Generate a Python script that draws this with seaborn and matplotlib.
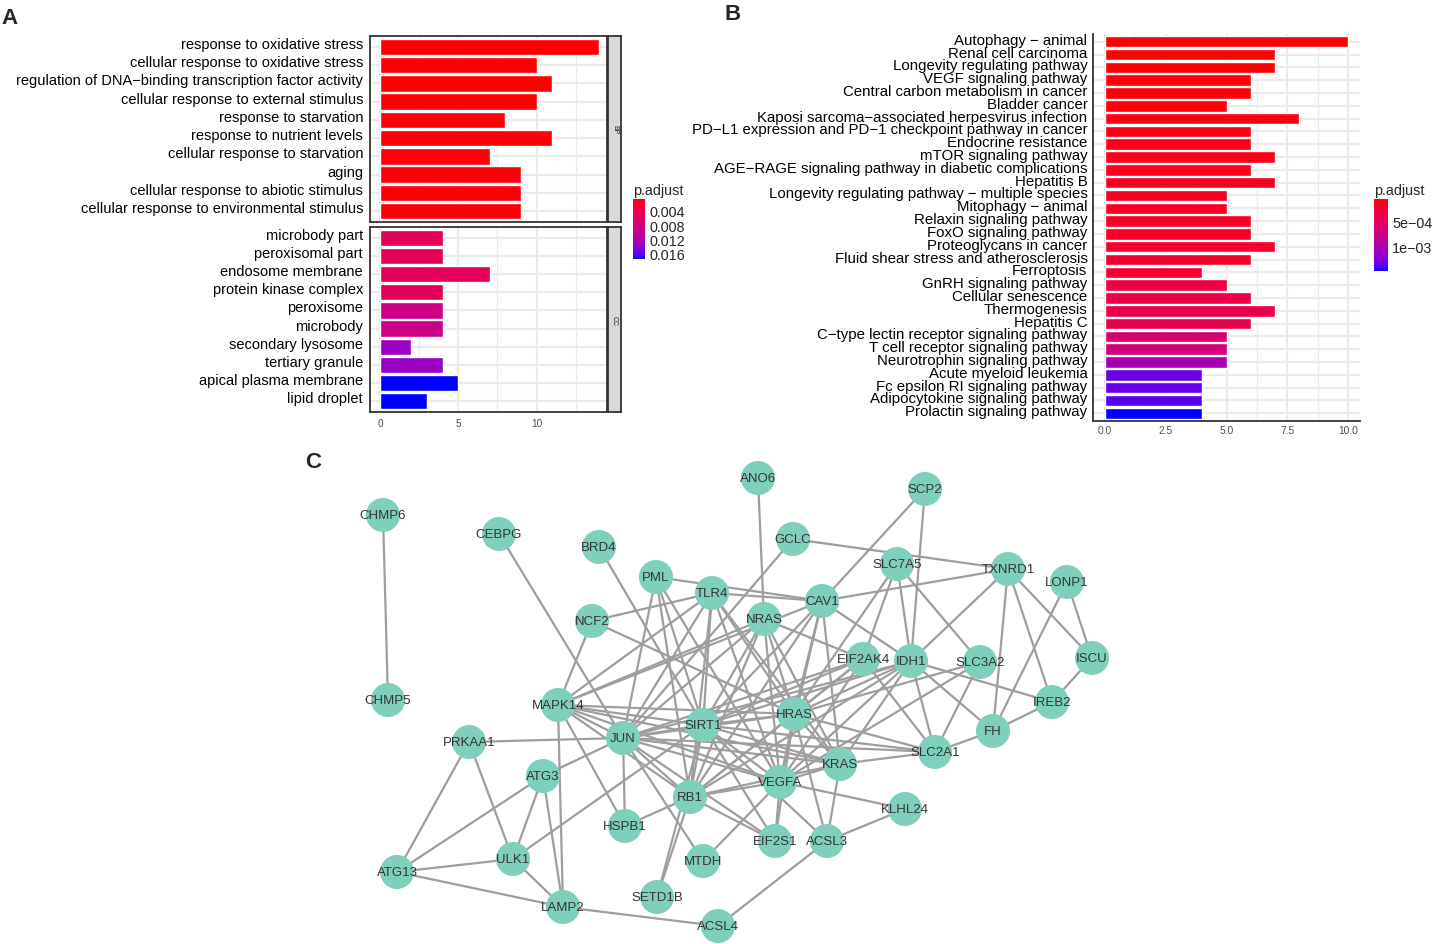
import numpy as np
import pandas as pd
import matplotlib
matplotlib.use("Agg")
import matplotlib.pyplot as plt
import matplotlib.transforms as mtransforms
import seaborn as sns
from matplotlib.colors import ListedColormap, Normalize
from matplotlib.cm import ScalarMappable

W, H = 1435, 945

# ---------------- panel A: GO enrichment ----------------
bp_terms = ["response to oxidative stress",
            "cellular response to oxidative stress",
            "regulation of DNA\u2212binding transcription factor activity",
            "cellular response to external stimulus",
            "response to starvation",
            "response to nutrient levels",
            "cellular response to starvation",
            "aging",
            "cellular response to abiotic stimulus",
            "cellular response to environmental stimulus"]
bp_counts = [14, 10, 11, 10, 8, 11, 7, 9, 9, 9]
bp_padj = [0.0007, 0.0008, 0.0008, 0.0008, 0.0009, 0.0009, 0.0009, 0.0010, 0.0010, 0.0010]

cc_terms = ["microbody part", "peroxisomal part", "endosome membrane",
            "protein kinase complex", "peroxisome", "microbody",
            "secondary lysosome", "tertiary granule",
            "apical plasma membrane", "lipid droplet"]
cc_counts = [4, 4, 7, 4, 4, 4, 2, 4, 5, 3]
cc_padj = [0.0054, 0.0054, 0.0055, 0.0055, 0.0089, 0.0090, 0.0130, 0.0133, 0.0174, 0.0174]

a_ticks = [0.004, 0.008, 0.012, 0.016]
a_tick_labels = ["0.004", "0.008", "0.012", "0.016"]

# ---------------- panel B: KEGG enrichment ----------------
kegg_terms = ["Autophagy \u2212 animal", "Renal cell carcinoma",
              "Longevity regulating pathway", "VEGF signaling pathway",
              "Central carbon metabolism in cancer", "Bladder cancer",
              "Kaposi sarcoma\u2212associated herpesvirus infection",
              "PD\u2212L1 expression and PD\u22121 checkpoint pathway in cancer",
              "Endocrine resistance", "mTOR signaling pathway",
              "AGE\u2212RAGE signaling pathway in diabetic complications",
              "Hepatitis B", "Longevity regulating pathway \u2212 multiple species",
              "Mitophagy \u2212 animal", "Relaxin signaling pathway",
              "FoxO signaling pathway", "Proteoglycans in cancer",
              "Fluid shear stress and atherosclerosis", "Ferroptosis",
              "GnRH signaling pathway", "Cellular senescence", "Thermogenesis",
              "Hepatitis C", "C\u2212type lectin receptor signaling pathway",
              "T cell receptor signaling pathway", "Neurotrophin signaling pathway",
              "Acute myeloid leukemia", "Fc epsilon RI signaling pathway",
              "Adipocytokine signaling pathway", "Prolactin signaling pathway"]
kegg_counts = [10, 7, 7, 6, 6, 5, 8, 6, 6, 7, 6, 7, 5, 5, 6,
               6, 7, 6, 4, 5, 6, 7, 6, 5, 5, 5, 4, 4, 4, 4]
kegg_padj = [4.0e-5, 4.2e-5, 4.5e-5, 5.5e-5, 6.2e-5, 7.0e-5, 7.8e-5, 9.5e-5,
             1.05e-4, 1.12e-4, 1.2e-4, 1.3e-4, 1.42e-4, 1.55e-4, 1.8e-4,
             1.85e-4, 1.95e-4, 2.0e-4, 2.1e-4, 3.2e-4, 3.5e-4, 3.55e-4,
             3.8e-4, 6.1e-4, 6.8e-4, 1.05e-3, 1.33e-3, 1.35e-3, 1.38e-3, 1.48e-3]

b_ticks = [5e-4, 1e-3]
b_tick_labels = ["5e\u221204", "1e\u221203"]

# ---------------- panel C: PPI network ----------------
node_names = ["CHMP6", "CHMP5", "CEBPG", "BRD4", "ANO6", "SCP2", "GCLC", "PML",
              "SLC7A5", "TXNRD1", "LONP1", "TLR4", "CAV1", "NCF2", "NRAS",
              "EIF2AK4", "IDH1", "SLC3A2", "ISCU", "MAPK14", "IREB2", "HRAS",
              "SIRT1", "FH", "PRKAA1", "JUN", "SLC2A1", "KRAS", "ATG3", "VEGFA",
              "RB1", "KLHL24", "HSPB1", "ACSL3", "EIF2S1", "MTDH", "ULK1",
              "ATG13", "SETD1B", "LAMP2", "ACSL4"]
node_x = [383, 388, 499, 599, 758, 925, 793, 656, 897, 1008, 1067, 712, 822, 592,
          764, 863, 911, 980, 1092, 558, 1052, 794, 703, 993, 469, 623, 935, 840,
          543, 780, 690, 905, 625, 827, 775, 703, 513, 397, 657, 563, 718]
node_y = [516, 701, 535, 548, 479, 490, 540, 578, 565, 570, 583, 594, 602, 622,
          620, 660, 662, 663, 659, 706, 703, 715, 726, 732, 743, 739, 753, 765,
          777, 783, 798, 810, 827, 842, 842, 862, 860, 873, 898, 908, 927]

edges = [("CHMP6", "CHMP5"), ("CEBPG", "JUN"), ("BRD4", "SIRT1"), ("ANO6", "NRAS"),
         ("GCLC", "TXNRD1"), ("GCLC", "JUN"), ("SCP2", "CAV1"), ("SCP2", "IDH1"),
         ("TXNRD1", "CAV1"), ("TXNRD1", "IDH1"), ("TXNRD1", "FH"), ("TXNRD1", "IREB2"),
         ("TXNRD1", "ISCU"), ("SLC7A5", "IDH1"), ("SLC7A5", "SLC3A2"),
         ("SLC7A5", "EIF2AK4"), ("SLC7A5", "HRAS"), ("LONP1", "ISCU"), ("LONP1", "FH"),
         ("ISCU", "IREB2"), ("IREB2", "FH"), ("IREB2", "IDH1"), ("FH", "SLC2A1"),
         ("FH", "IDH1"), ("SLC3A2", "SLC2A1"), ("SLC3A2", "HRAS"), ("SLC3A2", "VEGFA"),
         ("IDH1", "SLC2A1"), ("EIF2AK4", "SLC2A1"), ("CAV1", "IDH1"),
         ("NRAS", "EIF2AK4"), ("PML", "CAV1"), ("TLR4", "CAV1"), ("NCF2", "TLR4"),
         ("NCF2", "MAPK14"), ("NCF2", "HRAS"), ("MAPK14", "TLR4"), ("MAPK14", "NRAS"),
         ("MAPK14", "CAV1"), ("MAPK14", "JUN"), ("MAPK14", "SIRT1"), ("MAPK14", "HRAS"),
         ("MAPK14", "KRAS"), ("MAPK14", "VEGFA"), ("MAPK14", "RB1"),
         ("MAPK14", "HSPB1"), ("MAPK14", "LAMP2"), ("PML", "JUN"), ("PML", "SIRT1"),
         ("PML", "RB1"), ("PML", "VEGFA"), ("TLR4", "JUN"), ("TLR4", "SIRT1"),
         ("TLR4", "RB1"), ("TLR4", "HRAS"), ("TLR4", "KRAS"), ("TLR4", "VEGFA"),
         ("NRAS", "JUN"), ("NRAS", "SIRT1"), ("NRAS", "HRAS"), ("NRAS", "KRAS"),
         ("NRAS", "VEGFA"), ("NRAS", "RB1"), ("CAV1", "HRAS"), ("CAV1", "VEGFA"),
         ("CAV1", "KRAS"), ("CAV1", "SIRT1"), ("CAV1", "RB1"), ("JUN", "PRKAA1"),
         ("JUN", "ATG3"), ("JUN", "HSPB1"), ("JUN", "SIRT1"), ("JUN", "HRAS"),
         ("JUN", "KRAS"), ("JUN", "VEGFA"), ("JUN", "RB1"), ("JUN", "EIF2S1"),
         ("JUN", "SLC2A1"), ("JUN", "EIF2AK4"), ("JUN", "IDH1"), ("JUN", "MTDH"),
         ("SIRT1", "RB1"), ("SIRT1", "VEGFA"), ("SIRT1", "KRAS"), ("SIRT1", "HRAS"),
         ("SIRT1", "SLC2A1"), ("SIRT1", "ULK1"), ("SIRT1", "SETD1B"),
         ("SIRT1", "EIF2AK4"), ("SIRT1", "IDH1"), ("SIRT1", "ACSL3"),
         ("SIRT1", "EIF2S1"), ("RB1", "HSPB1"), ("RB1", "SETD1B"), ("RB1", "VEGFA"),
         ("RB1", "KRAS"), ("RB1", "EIF2S1"), ("RB1", "HRAS"), ("RB1", "IDH1"),
         ("RB1", "EIF2AK4"), ("VEGFA", "KLHL24"), ("VEGFA", "KRAS"), ("VEGFA", "HRAS"),
         ("VEGFA", "MTDH"), ("VEGFA", "EIF2S1"), ("VEGFA", "IDH1"),
         ("VEGFA", "EIF2AK4"), ("KRAS", "SLC2A1"), ("KRAS", "ACSL3"), ("KRAS", "HRAS"),
         ("KRAS", "IDH1"), ("HRAS", "ACSL3"), ("HRAS", "EIF2AK4"), ("HRAS", "IDH1"),
         ("HRAS", "SLC2A1"), ("HRAS", "EIF2S1"), ("ACSL3", "KLHL24"),
         ("ACSL3", "ACSL4"), ("ATG3", "ULK1"), ("ATG3", "LAMP2"), ("ATG3", "ATG13"),
         ("PRKAA1", "ATG13"), ("PRKAA1", "ULK1"), ("ATG13", "ULK1"),
         ("ATG13", "LAMP2"), ("ULK1", "LAMP2"), ("LAMP2", "ACSL4")]


def box(l, t, r, b):
    """pixel box (left, top, right, bottom) -> figure fraction rect"""
    return [l / W, 1 - b / H, (r - l) / W, (b - t) / H]


def lab_ramp(c1, c2, n=256):
    """red -> blue gradient interpolated in CIE Lab, like ggplot's gradient scale"""
    white = np.array([0.95047, 1.0, 1.08883])
    m = np.array([[0.4124, 0.3576, 0.1805],
                  [0.2126, 0.7152, 0.0722],
                  [0.0193, 0.1192, 0.9505]])

    def to_lab(rgb):
        c = np.where(rgb <= 0.04045, rgb / 12.92, ((rgb + 0.055) / 1.055) ** 2.4)
        xyz = m @ c / white
        f = np.where(xyz > 0.008856, np.cbrt(xyz), 7.787 * xyz + 16 / 116)
        return np.array([116 * f[1] - 16, 500 * (f[0] - f[1]), 200 * (f[1] - f[2])])

    def to_rgb(lab):
        fy = (lab[:, 0] + 16) / 116
        fx = fy + lab[:, 1] / 500
        fz = fy - lab[:, 2] / 200
        f = np.stack([fx, fy, fz], axis=1)
        xyz = np.where(f > 0.2069, f ** 3, (f - 16 / 116) / 7.787) * white
        lin = xyz @ np.linalg.inv(m).T
        lin = np.clip(lin, 0, 1)
        rgb = np.where(lin <= 0.0031308, 12.92 * lin, 1.055 * lin ** (1 / 2.4) - 0.055)
        return np.clip(rgb, 0, 1)

    t = np.linspace(0, 1, n)[:, None]
    lab = to_lab(np.array(c1)) * (1 - t) + to_lab(np.array(c2)) * t
    return ListedColormap(to_rgb(lab))


cmap = lab_ramp([1.0, 0.0, 0.0], [0.0, 0.0, 1.0])
GRID = "#EBEBEB"
DARK = "#333333"

sns.set_style("white")
plt.rcParams['font.family'] = ['Liberation Sans', 'DejaVu Sans']

fig = plt.figure(figsize=(W / 100, H / 100), dpi=100)


def enrich_bars(ax, terms, counts, padj, norm, xlim, label_size, lift_px, pad):
    df = pd.DataFrame({'term': terms, 'count': counts})
    colors = [cmap(norm(p)) for p in padj]
    sns.barplot(data=df, x='count', y='term', hue='term', palette=colors,
                legend=False, width=0.9, saturation=1, orient='h', ax=ax)
    ax.set_xlim(*xlim)
    ax.set_ylim(len(terms) - 0.4, -0.6)
    ax.set_xlabel('')
    ax.set_ylabel('')
    ax.set_axisbelow(True)
    ax.grid(which='major', color=GRID, lw=1.6)
    ax.grid(which='minor', axis='x', color=GRID, lw=0.9)
    ax.tick_params(axis='y', labelsize=label_size, labelcolor='black',
                   length=3, width=0.8, color=DARK, pad=pad)
    ax.tick_params(which='minor', length=0)
    # ggplot sets the term labels a little above the bar centre
    lift = mtransforms.ScaledTranslation(0, lift_px / 100, fig.dpi_scale_trans)
    for lab in ax.get_yticklabels():
        lab.set_transform(lab.get_transform() + lift)


# ---- A ----
norm_a = Normalize(0.0007, 0.0174)
ax_bp = fig.add_axes(box(370, 37, 607, 223))
ax_cc = fig.add_axes(box(370, 228, 607, 413))
for ax, terms, counts, padj in [(ax_bp, bp_terms, bp_counts, bp_padj),
                                (ax_cc, cc_terms, cc_counts, cc_padj)]:
    enrich_bars(ax, terms, counts, padj, norm_a, (-0.65, 14.5), 10.5, 4.5, 2)
    ax.set_xticks([0, 5, 10])
    ax.set_xticks([2.5, 7.5, 12.5], minor=True)
    for s in ax.spines.values():
        s.set_color(DARK)
        s.set_linewidth(1.3)
ax_bp.tick_params(axis='x', length=0, labelbottom=False)
ax_cc.tick_params(axis='x', labelsize=7.2, labelcolor='#4D4D4D', length=3,
                  width=0.8, color=DARK, pad=1)
ax_cc.set_xticklabels(["0", "5", "10"])

for (t, b), lab in [((37, 223), "BP"), ((228, 413), "CC")]:
    strip = fig.add_axes(box(608, t, 621, b))
    strip.set_facecolor("#D9D9D9")
    strip.set_xticks([])
    strip.set_yticks([])
    for s in strip.spines.values():
        s.set_color(DARK)
        s.set_linewidth(1.3)
    strip.text(0.5, 0.5, lab, rotation=-90, ha='center', va='center',
               fontsize=5, color='#1A1A1A', transform=strip.transAxes)

cax_a = fig.add_axes(box(633, 200, 645, 260))
cb_a = fig.colorbar(ScalarMappable(norm=norm_a, cmap=cmap), cax=cax_a)
cb_a.outline.set_visible(False)
cb_a.set_ticks(a_ticks)
cb_a.set_ticklabels(a_tick_labels)
cax_a.invert_yaxis()
cax_a.yaxis.set_ticks_position('both')
cax_a.tick_params(direction='in', color='white', length=2.5, width=0.8,
                  labelsize=10.4, labelleft=False, labelright=True, pad=3)
fig.text(633 / W, 1 - 191 / H, "p.adjust", fontsize=10.4, ha='left', va='center')

# ---- B ----
norm_b = Normalize(4e-5, 1.48e-3)
ax_b = fig.add_axes(box(1093, 35, 1360, 422))
enrich_bars(ax_b, kegg_terms, kegg_counts, kegg_padj, norm_b, (-0.5, 10.5), 10.8, 3.5, 1)
ax_b.set_xticks([0, 2.5, 5, 7.5, 10])
ax_b.set_xticklabels(["0.0", "2.5", "5.0", "7.5", "10.0"])
ax_b.set_xticks([1.25, 3.75, 6.25, 8.75], minor=True)
ax_b.tick_params(axis='x', labelsize=7.4, labelcolor='#4D4D4D', length=3,
                 width=0.8, color=DARK, pad=0)
for side in ['top', 'right']:
    ax_b.spines[side].set_visible(False)
for side in ['left', 'bottom']:
    ax_b.spines[side].set_color(DARK)
    ax_b.spines[side].set_linewidth(1.3)

cax_b = fig.add_axes(box(1374, 200, 1388, 272))
cb_b = fig.colorbar(ScalarMappable(norm=norm_b, cmap=cmap), cax=cax_b)
cb_b.outline.set_visible(False)
cb_b.set_ticks(b_ticks)
cb_b.set_ticklabels(b_tick_labels)
cax_b.invert_yaxis()
cax_b.yaxis.set_ticks_position('both')
cax_b.tick_params(direction='in', color='white', length=2.5, width=0.8,
                  labelsize=10.4, labelleft=False, labelright=True, pad=3)
fig.text(1374 / W, 1 - 191 / H, "p.adjust", fontsize=10.4, ha='left', va='center')

# ---- C ----
ax_c = fig.add_axes(box(300, 440, 1135, 945))
pos = {n: (x, y) for n, x, y in zip(node_names, node_x, node_y)}
for a, b in edges:
    ax_c.plot([pos[a][0], pos[b][0]], [pos[a][1], pos[b][1]],
              color='#9E9E9E', lw=1.6, zorder=1, solid_capstyle='butt')
sns.scatterplot(x=node_x, y=node_y, s=600, color='#7ED0BC', edgecolor='none',
                linewidth=0, ax=ax_c, zorder=2, legend=False)
for n, x, y in zip(node_names, node_x, node_y):
    ax_c.text(x, y, n, ha='center', va='center', fontsize=9.5, color='#333333',
              zorder=3)
ax_c.set_xlim(300, 1135)
ax_c.set_ylim(945, 440)
ax_c.axis('off')

# panel letters
for x, y, s in [(10, 18, "A"), (733, 15, "B"), (313, 462, "C")]:
    fig.text(x / W, 1 - y / H, s, fontsize=16, fontweight='bold', ha='center',
             va='center')

fig.savefig("out.png", dpi=100)
